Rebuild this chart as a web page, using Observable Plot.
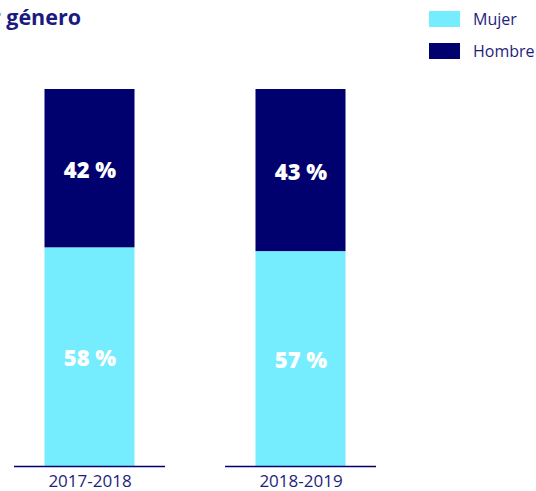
<!DOCTYPE html>
<html>
<head>
<meta charset="utf-8">
<script src="https://cdn.jsdelivr.net/npm/d3@7"></script>
<script src="https://cdn.jsdelivr.net/npm/@observablehq/plot@0.6"></script>
<style>
  html, body { margin: 0; padding: 0; background: #fff; overflow: hidden; }
  #wrap { position: relative; width: 536px; height: 491px; font-family: "Open Sans", sans-serif; }
  #title { position: absolute; right: 455px; top: 2px; white-space: nowrap; font-weight: 700; font-size: 21.5px; color: #1a1a80; }
  .leg { position: absolute; left: 429px; display: flex; align-items: center; font-size: 16px; color: #1e1e7e; }
  .sw { width: 31px; height: 16px; margin-right: 13px; }
</style>
</head>
<body>
<div id="wrap">
  <div id="chart"></div>
  <div id="title">Distribución por género</div>
  <div id="legend"></div>
</div>
<script>
const periods = ["2017-2018", "2018-2019"];
const genders = ["Mujer", "Hombre"];
const mujer = [58, 57];
const hombre = [42, 43];
const colors = ["#75edff", "#00006e"];

const rows = [];
periods.forEach((p, i) => {
  rows.push({period: p, gender: "Mujer", value: mujer[i]});
  rows.push({period: p, gender: "Hombre", value: hombre[i]});
});

const chart = Plot.plot({
  width: 536,
  height: 491,
  marginTop: 89,
  marginBottom: 25,
  marginLeft: 14,
  marginRight: 159,
  style: {fontFamily: "'Open Sans', sans-serif", background: "white"},
  x: {domain: periods, paddingInner: 0.283, paddingOuter: 0, label: null},
  y: {domain: [0, 100], axis: null},
  color: {domain: genders, range: colors},
  marks: [
    Plot.barY(rows, Plot.stackY({x: "period", y: "value", fill: "gender", order: genders, insetLeft: 30.5, insetRight: 30.5})),
    Plot.text(rows, Plot.stackY({x: "period", y: "value", z: "gender", order: genders, text: d => d.value + " %", fill: "white", fontSize: 22, fontWeight: 800, dy: 2})),
    Plot.tickY(periods, {x: d => d, y: 0, stroke: "#00006e", strokeWidth: 1.5}),
    Plot.axisX({tickSize: 0, tickPadding: 8, fontSize: 17, color: "#1e1e7e", label: null})
  ]
});
document.getElementById("chart").appendChild(chart);

const legend = document.getElementById("legend");
genders.forEach((g, i) => {
  const item = document.createElement("div");
  item.className = "leg";
  item.style.top = (8 + i * 32) + "px";
  item.innerHTML = `<div class="sw" style="background:${colors[i]}"></div><span>${g}</span>`;
  legend.appendChild(item);
});
</script>
</body>
</html>
